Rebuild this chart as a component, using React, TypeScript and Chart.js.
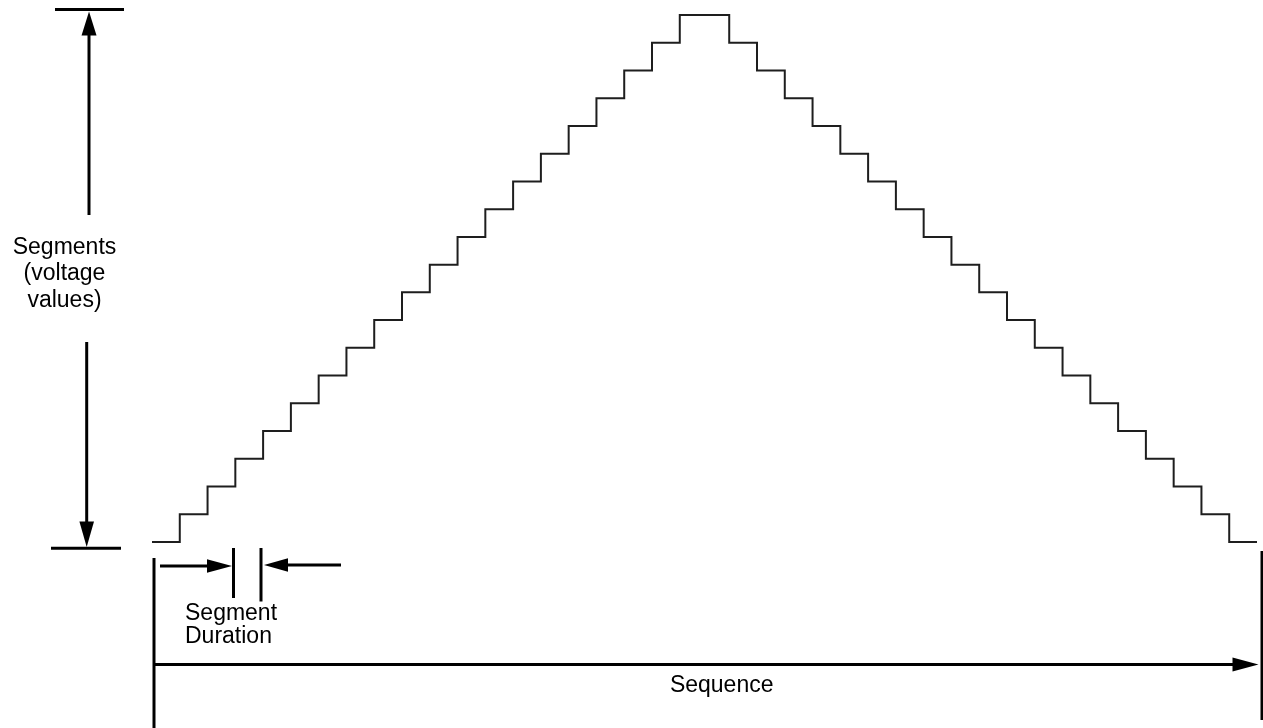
import React, { useEffect, useRef } from "react";
import { Chart, registerables } from "chart.js";

Chart.register(...registerables);

// Voltage level of each segment of the sequence (ramp up, plateau, ramp down)
const segmentLevels = [
  0, 1, 2, 3, 4, 5, 6, 7, 8, 9, 10, 11, 12, 13, 14, 15, 16, 17, 18, 19,
  19, 18, 17, 16, 15, 14, 13, 12, 11, 10, 9, 8, 7, 6, 5, 4, 3, 2, 1, 0,
];
// Duration of each segment (relative units)
const segmentDurations = [
  1, 1, 1, 1, 1, 1, 1, 1, 1, 1, 1, 1, 1, 1, 1, 1, 1, 1, 1, 0.89,
  0.89, 1, 1, 1, 1, 1, 1, 1, 1, 1, 1, 1, 1, 1, 1, 1, 1, 1, 1, 1,
];
const yAxisLabelLines = ["Segments", "(voltage", "values)"];
const durationLabelLines = ["Segment", "Duration"];
const sequenceLabel = "Sequence";

const FONT = "23px 'Liberation Sans', Arial, Helvetica, sans-serif";

function buildPoints() {
  const pts: { x: number; y: number }[] = [];
  let t = 0;
  for (let i = 0; i < segmentLevels.length; i++) {
    pts.push({ x: t, y: segmentLevels[i] });
    t += segmentDurations[i];
  }
  pts.push({ x: t, y: segmentLevels[segmentLevels.length - 1] });
  return { pts, total: t };
}

function line(ctx: CanvasRenderingContext2D, x1: number, y1: number, x2: number, y2: number) {
  ctx.beginPath();
  ctx.moveTo(x1, y1);
  ctx.lineTo(x2, y2);
  ctx.stroke();
}

function arrow(
  ctx: CanvasRenderingContext2D,
  x1: number,
  y1: number,
  x2: number,
  y2: number,
  headLen: number,
  headHalf: number
) {
  const dx = x2 - x1;
  const dy = y2 - y1;
  const len = Math.hypot(dx, dy);
  const ux = dx / len;
  const uy = dy / len;
  const bx = x2 - ux * headLen;
  const by = y2 - uy * headLen;
  line(ctx, x1, y1, bx + ux * 1, by + uy * 1);
  ctx.beginPath();
  ctx.moveTo(x2, y2);
  ctx.lineTo(bx - uy * headHalf, by + ux * headHalf);
  ctx.lineTo(bx + uy * headHalf, by - ux * headHalf);
  ctx.closePath();
  ctx.fill();
}

const annotationPlugin = {
  id: "diagramAnnotations",
  afterDraw(chart: any) {
    const ctx: CanvasRenderingContext2D = chart.ctx;
    ctx.save();
    ctx.strokeStyle = "#000";
    ctx.fillStyle = "#000";
    ctx.lineWidth = 3;
    ctx.lineCap = "butt";

    // Vertical (voltage) range indicator
    line(ctx, 55, 9.5, 124, 9.5);
    arrow(ctx, 89, 215, 89, 11.5, 24, 7.5);
    arrow(ctx, 86.7, 342, 86.7, 547, 25.5, 7.3);
    line(ctx, 51, 548.3, 121, 548.3);

    // Segment duration markers
    line(ctx, 154, 558, 154, 728);
    arrow(ctx, 160, 566, 232, 566, 25, 6.8);
    line(ctx, 233.5, 548, 233.5, 598);
    line(ctx, 261, 548, 261, 601.5);
    arrow(ctx, 341, 565, 264, 565, 24, 6.8);

    // Sequence arrow
    arrow(ctx, 154, 664.5, 1258.5, 664.5, 26, 7);
    line(ctx, 1262, 551, 1262, 720);

    // Texts
    ctx.font = FONT;
    ctx.textBaseline = "alphabetic";
    ctx.textAlign = "center";
    const leftBaselines = [253.5, 280, 307];
    yAxisLabelLines.forEach((t, i) => ctx.fillText(t, 64.5, leftBaselines[i]));
    ctx.textAlign = "left";
    const durBaselines = [620, 643];
    durationLabelLines.forEach((t, i) => ctx.fillText(t, 185, durBaselines[i]));
    ctx.textAlign = "center";
    ctx.fillText(sequenceLabel, 721.7, 691.5);
    ctx.restore();
  },
};

export default function App() {
  const canvasRef = useRef<HTMLCanvasElement | null>(null);

  useEffect(() => {
    if (!canvasRef.current) return;
    const { pts, total } = buildPoints();
    const chart = new Chart(canvasRef.current, {
      type: "line",
      data: {
        datasets: [
          {
            data: pts,
            stepped: "before",
            borderColor: "#1e1e1e",
            borderWidth: 2,
            pointRadius: 0,
            fill: false,
            clip: 6,
          } as any,
        ],
      },
      options: {
        animation: false,
        responsive: false,
        devicePixelRatio: 1,
        layout: { padding: { left: 152, right: 6, top: 15, bottom: 186 } },
        scales: {
          x: { type: "linear", min: 0, max: total, display: false },
          y: { type: "linear", min: 0, max: 19, display: false },
        },
        plugins: {
          legend: { display: false },
          tooltip: { enabled: false },
        },
      },
      plugins: [annotationPlugin],
    });
    return () => chart.destroy();
  }, []);

  return (
    <div style={{ position: "fixed", left: 0, top: 0, width: 1263, height: 728, background: "#fff" }}>
      <canvas ref={canvasRef} width={1263} height={728} style={{ display: "block" }} />
    </div>
  );
}
